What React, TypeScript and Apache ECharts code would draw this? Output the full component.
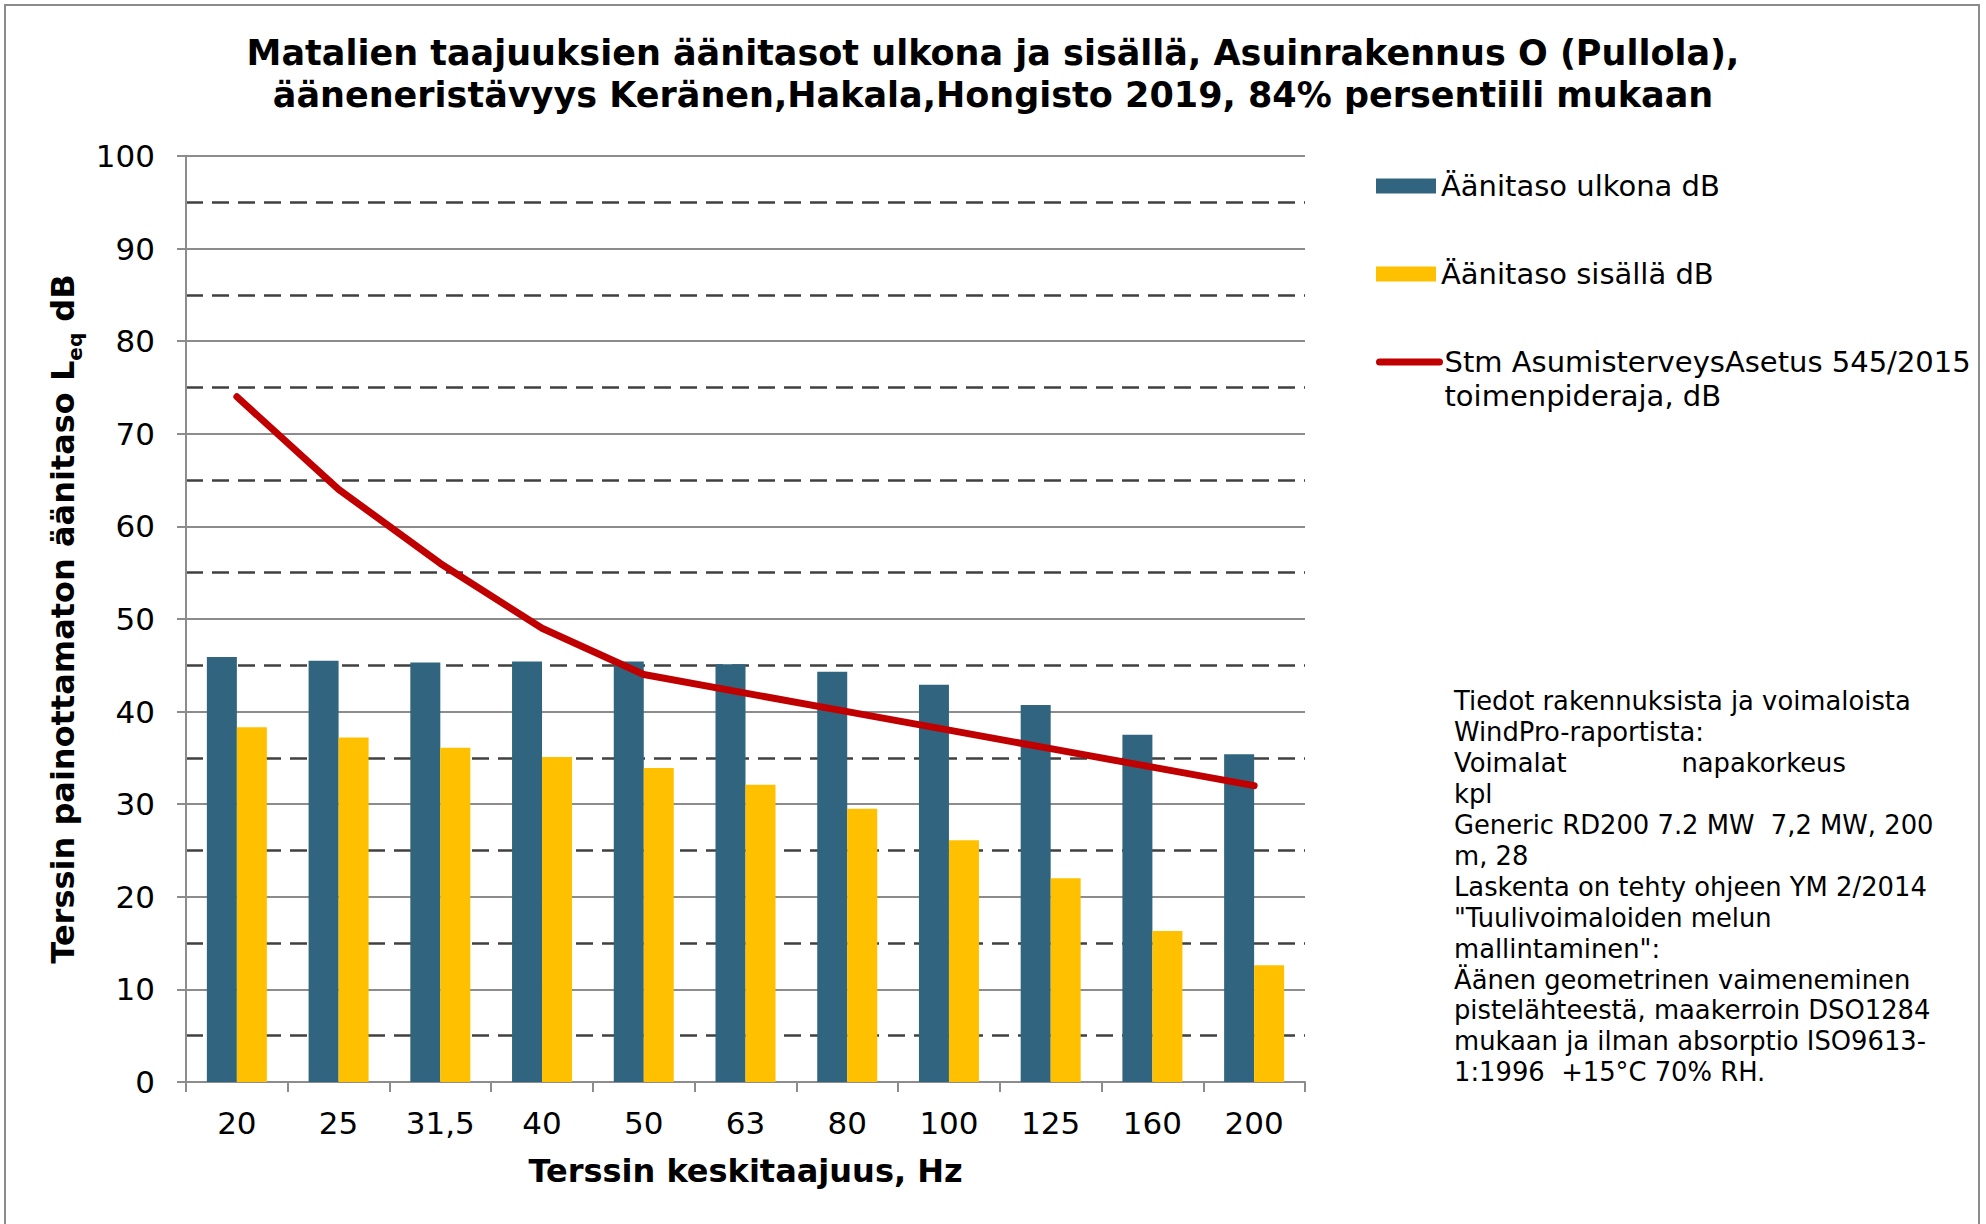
import React, { useEffect, useRef } from "react";
import * as echarts from "echarts";

const categories = ["20", "25", "31,5", "40", "50", "63", "80", "100", "125", "160", "200"];
const outdoor = [45.9, 45.5, 45.3, 45.4, 45.4, 45.1, 44.3, 42.9, 40.7, 37.5, 35.4];
const indoor = [38.3, 37.2, 36.1, 35.1, 33.9, 32.1, 29.5, 26.1, 22.0, 16.3, 12.6];
const limit = [74, 64, 56, 49, 44, 42, 40, 38, 36, 34, 32];

const seriesNames = [
  "Äänitaso ulkona dB",
  "Äänitaso sisällä dB",
  "Stm AsumisterveysAsetus 545/2015 toimenpideraja, dB",
];

const titleLines = [
  "Matalien taajuuksien äänitasot ulkona ja sisällä, Asuinrakennus O (Pullola),",
  "ääneneristävyys Keränen,Hakala,Hongisto 2019, 84% persentiili mukaan",
];

const noteLines = [
  "Tiedot rakennuksista ja voimaloista",
  "WindPro-raportista:",
  "Voimalat              napakorkeus",
  "kpl",
  "Generic RD200 7.2 MW  7,2 MW, 200",
  "m, 28",
  "Laskenta on tehty ohjeen YM 2/2014",
  "\"Tuulivoimaloiden melun",
  "mallintaminen\":",
  "Äänen geometrinen vaimeneminen",
  "pistelähteestä, maakerroin DSO1284",
  "mukaan ja ilman absorptio ISO9613-",
  "1:1996  +15°C 70% RH.",
];

const FONT = "DejaVu Sans";

export default function App() {
  const ref = useRef<HTMLDivElement>(null);
  useEffect(() => {
    if (!ref.current) return;
    const chart = echarts.init(ref.current, undefined, { renderer: "svg" });
    const legendText = { fontSize: 29, fontFamily: FONT, color: "#000", lineHeight: 34 };
    chart.setOption({
      animation: false,
      backgroundColor: "#fff",
      title: {
        text: titleLines.join("\n"),
        left: "center",
        top: 32,
        padding: 0,
        textStyle: { fontSize: 35, fontWeight: "bold", fontFamily: FONT, color: "#000", lineHeight: 42 },
      },
      legend: [
        {
          data: [seriesNames[0]],
          left: 1376,
          top: 169,
          padding: 0,
          icon: "rect",
          itemWidth: 60,
          itemHeight: 15,
          selectedMode: false,
          textStyle: legendText,
        },
        {
          data: [seriesNames[1]],
          left: 1376,
          top: 257,
          padding: 0,
          icon: "rect",
          itemWidth: 60,
          itemHeight: 15,
          selectedMode: false,
          textStyle: legendText,
        },
        {
          data: [seriesNames[2]],
          left: 1376,
          top: 311,
          padding: 0,
          itemWidth: 60,
          itemHeight: 15,
          selectedMode: false,
          itemStyle: { opacity: 0 },
          lineStyle: { width: 7, cap: "round", color: "#C00000" },
          formatter: () => "\nStm AsumisterveysAsetus 545/2015\ntoimenpideraja, dB",
          textStyle: legendText,
        },
      ],
      grid: { left: 186, right: 681, top: 156, bottom: 142, containLabel: false },
      xAxis: {
        type: "category",
        data: categories,
        boundaryGap: true,
        name: "Terssin keskitaajuus, Hz",
        nameLocation: "middle",
        nameGap: 73,
        nameTextStyle: { fontSize: 32, fontWeight: "bold", fontFamily: FONT, color: "#000" },
        axisLine: { show: true, lineStyle: { color: "#8c8c8c", width: 2 } },
        axisTick: { show: true, length: 10, alignWithLabel: false, lineStyle: { color: "#8c8c8c", width: 2 } },
        axisLabel: { fontSize: 31, fontFamily: FONT, color: "#000", margin: 25 },
        splitLine: { show: false },
      },
      yAxis: {
        type: "value",
        min: 0,
        max: 100,
        interval: 10,
        name: "{a|Terssin painottamaton äänitaso L}{sub|eq}{a| dB}",
        nameLocation: "middle",
        nameRotate: 90,
        nameGap: 98,
        nameTextStyle: {
          fontSize: 32,
          fontWeight: "bold",
          fontFamily: FONT,
          color: "#000",
          rich: {
            a: { fontSize: 32, fontWeight: "bold", fontFamily: FONT, color: "#000", lineHeight: 44, verticalAlign: "middle" },
            sub: { fontSize: 20, fontWeight: "bold", fontFamily: FONT, color: "#000", lineHeight: 30, verticalAlign: "bottom" },
          },
        },
        axisLine: { show: true, lineStyle: { color: "#8c8c8c", width: 2 } },
        axisTick: { show: true, length: 9, lineStyle: { color: "#8c8c8c", width: 2 } },
        axisLabel: { fontSize: 31, fontFamily: FONT, color: "#000", margin: 31 },
        splitLine: { show: true, lineStyle: { color: "#8c8c8c", width: 2 } },
        minorTick: { show: false, splitNumber: 2 },
        minorSplitLine: { show: true, lineStyle: { color: "#404040", width: 2.5, type: [17, 9] } },
      },
      series: [
        {
          name: seriesNames[0],
          type: "bar",
          data: outdoor,
          barWidth: 30,
          barGap: "0%",
          itemStyle: { color: "#31657F" },
        },
        {
          name: seriesNames[1],
          type: "bar",
          data: indoor,
          barWidth: 30,
          barGap: "0%",
          itemStyle: { color: "#FFC000" },
        },
        {
          name: seriesNames[2],
          type: "line",
          data: limit,
          symbol: "none",
          z: 5,
          lineStyle: { color: "#C00000", width: 7, cap: "round", join: "round" },
          itemStyle: { color: "#C00000" },
        },
      ],
      graphic: [
        {
          type: "rect",
          shape: { x: 5, y: 5, width: 1974, height: 1240 },
          style: { fill: "none", stroke: "#8c8c8c", lineWidth: 2 },
          silent: true,
        },
        {
          type: "text",
          x: 1454,
          y: 686,
          style: {
            text: noteLines.join("\n"),
            fontSize: 25.8,
            fontFamily: FONT,
            fill: "#000",
            lineHeight: 30.9,
            verticalAlign: "top",
            align: "left",
          },
        },
      ],
    });
    return () => chart.dispose();
  }, []);
  return <div ref={ref} style={{ position: "fixed", left: 0, top: 0, width: 1986, height: 1224 }} />;
}
